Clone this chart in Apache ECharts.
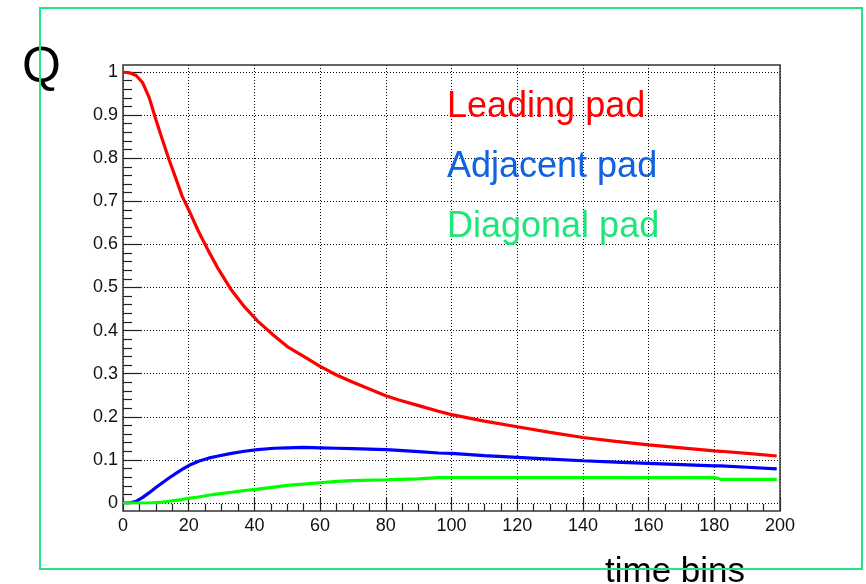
<!DOCTYPE html>
<html>
<head>
<meta charset="utf-8">
<script src="https://cdn.jsdelivr.net/npm/echarts@6/dist/echarts.min.js"></script>
<style>
html,body{margin:0;padding:0;background:#fff;}
#chart{width:866px;height:584px;}
</style>
</head>
<body>
<div id="chart"></div>
<script>
var timeBins = [0,2,4,6,8,10,12,14,16,18,20,23,26,29,33,37,41,46,50,55,60,65,70,80,84,90,96,100,110,120,130,140,150,160,170,180,182,190,199];
var leadingPad = [1.000,0.998,0.992,0.975,0.940,0.890,0.843,0.797,0.755,0.712,0.680,0.630,0.585,0.543,0.494,0.455,0.422,0.388,0.363,0.340,0.317,0.297,0.280,0.249,0.239,0.226,0.213,0.205,0.190,0.177,0.164,0.152,0.143,0.135,0.128,0.121,0.120,0.115,0.109];
var adjacentPad = [0,0,0.004,0.013,0.024,0.036,0.047,0.058,0.068,0.078,0.087,0.097,0.104,0.109,0.115,0.120,0.124,0.127,0.128,0.129,0.128,0.127,0.126,0.124,0.122,0.119,0.116,0.115,0.110,0.106,0.102,0.098,0.095,0.092,0.089,0.086,0.086,0.083,0.079];
var diagonalPad = [0,0,0,0,0,0.001,0.002,0.004,0.006,0.008,0.011,0.014,0.018,0.021,0.025,0.029,0.032,0.037,0.041,0.044,0.047,0.050,0.052,0.054,0.055,0.056,0.059,0.059,0.059,0.059,0.059,0.059,0.059,0.059,0.059,0.059,0.055,0.055,0.055];
var seriesNames = ['Leading pad','Adjacent pad','Diagonal pad'];
var yTicks = {min:0, max:1, interval:0.1};
var xTicks = {min:0, max:200, interval:20};

function pairs(vals){ return timeBins.map(function(x,i){ return [x, vals[i]]; }); }

var FONT = '"Liberation Sans", Arial, Helvetica, sans-serif';
var chart = echarts.init(document.getElementById('chart'), null, {renderer:'canvas'});
var dotted = {color:'#000', width:1, type:[1,2]};

var option = {
  animation:false,
  backgroundColor:'#fff',
  grid:[
    {left:123, top:65, width:657, height:446, show:true, borderColor:'#333', borderWidth:1.5, backgroundColor:'transparent', z:3},
    {left:123, top:72, width:657, height:431, show:false}
  ],
  xAxis:[
    {gridIndex:0, type:'value', min:xTicks.min, max:xTicks.max, interval:xTicks.interval,
     axisLine:{show:false},
     axisTick:{show:true, inside:true, length:13, lineStyle:{color:'#222', width:1.2}},
     minorTick:{show:true, splitNumber:4, length:7, lineStyle:{color:'#222', width:1.2}},
     splitLine:{show:true, lineStyle:dotted},
     axisLabel:{fontSize:18, color:'#111', fontFamily:FONT, margin:6}},
    {gridIndex:1, type:'value', min:xTicks.min, max:xTicks.max, show:false}
  ],
  yAxis:[
    {gridIndex:0, type:'value', min:0, max:1, show:false},
    {gridIndex:1, type:'value', min:yTicks.min, max:yTicks.max, interval:yTicks.interval,
     axisLine:{show:false},
     axisTick:{show:true, inside:true, length:19, lineStyle:{color:'#222', width:1.2}},
     minorTick:{show:true, splitNumber:5, length:9, lineStyle:{color:'#222', width:1.2}},
     splitLine:{show:true, lineStyle:dotted},
     axisLabel:{fontSize:18, color:'#111', fontFamily:FONT, margin:5}}
  ],
  series:[
    {name:seriesNames[0], type:'line', xAxisIndex:1, yAxisIndex:1, data:pairs(leadingPad), showSymbol:false, lineStyle:{color:'#ff0000', width:3.2}, itemStyle:{color:'#ff0000'}, z:5},
    {name:seriesNames[1], type:'line', xAxisIndex:1, yAxisIndex:1, data:pairs(adjacentPad), showSymbol:false, lineStyle:{color:'#0000ff', width:3.2}, itemStyle:{color:'#0000ff'}, z:5},
    {name:seriesNames[2], type:'line', xAxisIndex:1, yAxisIndex:1, data:pairs(diagonalPad), showSymbol:false, lineStyle:{color:'#00ff00', width:3.2}, itemStyle:{color:'#00ff00'}, z:5}
  ],
  graphic:[
    {type:'text', left:447, top:89, z:10, style:{text:seriesNames[0], fill:'#ff0000', font:'36px '+FONT}},
    {type:'text', left:447, top:149, z:10, style:{text:seriesNames[1], fill:'#0f62e0', font:'36px '+FONT}},
    {type:'text', left:447, top:209, z:10, style:{text:seriesNames[2], fill:'#1ee678', font:'36px '+FONT}},
    {type:'text', left:22, top:43, z:10, style:{text:'Q', fill:'#000', font:'50px '+FONT}},
    {type:'text', left:605, top:555, z:10, style:{text:'time bins', fill:'#000', font:'35px '+FONT}},
    {type:'rect', z:20, shape:{x:40, y:8, width:822, height:561}, style:{fill:null, stroke:'#22e584', lineWidth:2}}
  ]
};
chart.setOption(option);
</script>
</body>
</html>
